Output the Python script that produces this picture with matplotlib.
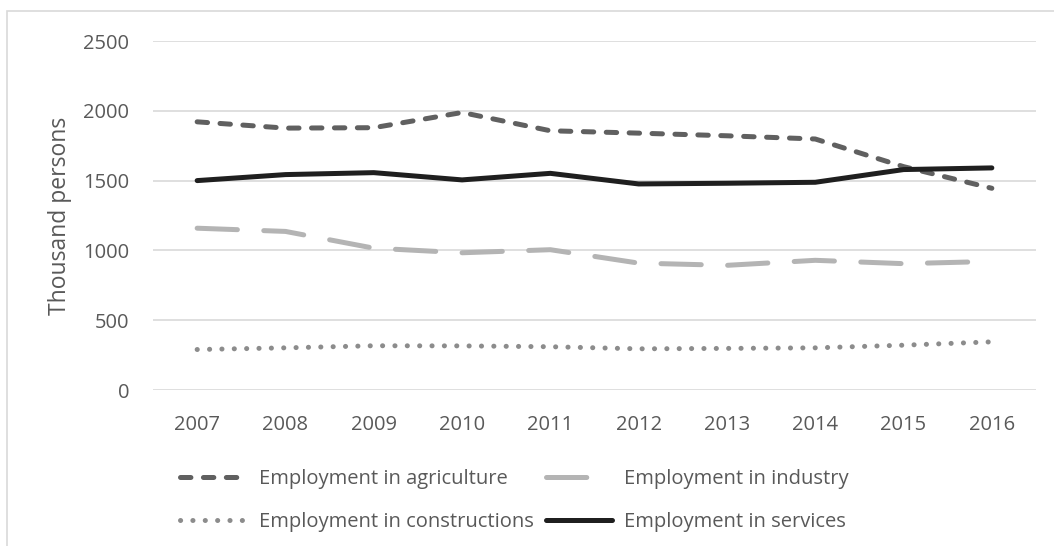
import matplotlib
matplotlib.use("Agg")
import matplotlib.pyplot as plt
import matplotlib.patches as mpatches
import numpy as np

# ── Data (thousand persons) ─────────────────────────────────────────────────
years = ["2007", "2008", "2009", "2010", "2011", "2012", "2013", "2014", "2015", "2016"]
agriculture = [1921, 1876, 1879, 1988, 1857, 1840, 1821, 1798, 1600, 1445]
industry = [1159, 1136, 1016, 983, 1005, 909, 893, 929, 905, 921]
constructions = [290, 302, 317, 316, 310, 295, 298, 302, 321, 345]
services = [1500, 1543, 1557, 1505, 1552, 1476, 1481, 1488, 1579, 1591]

# ── Style ───────────────────────────────────────────────────────────────────
TEXT = "#595959"
GRID = "#d9d9d9"
FS = 14.5
plt.rcParams.update({
    "font.family": ["Open Sans", "DejaVu Sans"],
    "font.size": FS,
    "lines.scale_dashes": False,
})

fig = plt.figure(figsize=(10.54, 5.46), dpi=100)
ax = fig.add_axes([153 / 1054, 1 - 390 / 546, (1036 - 153) / 1054, (390 - 41) / 546])

# outer chart border (cropped on right/bottom)
fig.patches.append(mpatches.Rectangle((7 / 1054, -0.05), 1.1, 1 - 11 / 546 + 0.05,
                                      transform=fig.transFigure, fill=False,
                                      edgecolor=GRID, linewidth=1.2))

x = np.arange(len(years))
lw = 3.6
l_agri, = ax.plot(x, agriculture, color="#606060", lw=lw, dashes=(7.5, 9.0),
                  dash_capstyle="round", solid_capstyle="round")
l_ind, = ax.plot(x, industry, color="#b4b4b4", lw=lw, dashes=(29, 19),
                 dash_capstyle="round", solid_capstyle="round")
l_con, = ax.plot(x, constructions, color="#8c8c8c", lw=lw, dashes=(0.1, 8.8),
                 dash_capstyle="round", solid_capstyle="round")
l_srv, = ax.plot(x, services, color="#1f1f1f", lw=lw,
                 solid_capstyle="round", solid_joinstyle="round")

ax.set_xlim(-0.5, len(years) - 0.5)
ax.set_ylim(0, 2500)
ax.set_yticks(np.arange(0, 2501, 500))
ax.set_xticks(x)
ax.set_xticklabels(years)
ax.tick_params(length=0, colors=TEXT, labelsize=FS)
ax.tick_params(axis="y", pad=17)
ax.tick_params(axis="x", pad=18)
ax.grid(True, axis="y", color=GRID, linewidth=1.2)
ax.set_axisbelow(True)
for s in ax.spines.values():
    s.set_visible(False)
ax.set_ylabel("Thousand persons", color=TEXT, fontsize=16.5, labelpad=8)

handles = [l_agri, l_con, l_ind, l_srv]
labels = ["Employment in agriculture", "Employment in constructions",
          "Employment in industry", "Employment in services"]
fig.legend(handles, labels, ncol=2, loc="center", bbox_to_anchor=(0.488, 0.083),
           frameon=False, handlelength=3.3, handletextpad=0.6, columnspacing=0.6,
           labelspacing=1.15, labelcolor=TEXT, fontsize=FS)

fig.savefig("out.png", dpi=100)
